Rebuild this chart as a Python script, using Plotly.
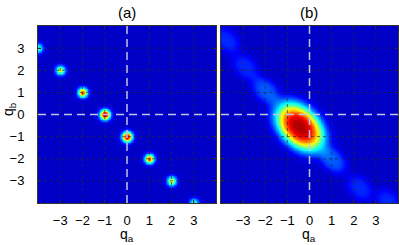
import numpy as np
import plotly.graph_objects as go

# ---------------- data ----------------
q_range = [-4, 4]
tick_vals = [-3, -2, -1, 0, 1, 2, 3]
tick_text = ["\u22123", "\u22122", "\u22121", "0", "1", "2", "3"]

# panel (a): sharp spots along q_b = -q_a - 1
spot_qa = [-4, -3, -2, -1, 0, 1, 2, 3]
spot_qb = [3, 2, 1, 0, -1, -2, -3, -4]
spot_amp = [0.42, 0.58, 0.80, 1.00, 0.97, 0.80, 0.58, 0.42]
spot_sigma = [0.15, 0.15, 0.15, 0.16, 0.16, 0.15, 0.15, 0.15]

# panel (b): broad central blob + weak side lobes (elongated along (1,-1))
blob_qa, blob_qb = -0.45, -0.55
blob_amp = 0.95
blob_half_axes = [1.24, 0.82]   # along / across the anti-diagonal
lobe_qa = [-3.75, -2.9, -2.0, 1.05, 2.25, 3.55]
lobe_qb = [3.35, 2.15, 1.1, -2.05, -3.3, -3.95]
lobe_amp = [0.10, 0.10, 0.15, 0.15, 0.10, 0.10]
lobe_half_axes = [0.7, 0.48]    # along / across the anti-diagonal

# ---------------- build the intensity fields ----------------
q = np.linspace(-4, 4, 241)
QA, QB = np.meshgrid(q, q)

Za = np.zeros_like(QA)
for a, b, A, s in zip(spot_qa, spot_qb, spot_amp, spot_sigma):
    Za += A * np.exp(-((QA - a) ** 2 + (QB - b) ** 2) / (2 * s * s))

def rot(dqa, dqb):
    return (dqa - dqb) / np.sqrt(2), (dqa + dqb) / np.sqrt(2)

u, v = rot(QA - blob_qa, QB - blob_qb)
r2 = (u / blob_half_axes[0]) ** 2 + (v / blob_half_axes[1]) ** 2
Zb = blob_amp * np.exp(-r2 ** 1.5)
for a, b, A in zip(lobe_qa, lobe_qb, lobe_amp):
    u, v = rot(QA - a, QB - b)
    rr = (u / lobe_half_axes[0]) ** 2 + (v / lobe_half_axes[1]) ** 2
    Zb += A * np.exp(-rr ** 1.7)

jet = [
    [0.0, "rgb(0,0,128)"],
    [0.125, "rgb(0,0,255)"],
    [0.375, "rgb(0,255,255)"],
    [0.625, "rgb(255,255,0)"],
    [0.875, "rgb(255,0,0)"],
    [1.0, "rgb(128,0,0)"],
]

fig = go.Figure()
for Z, xa, ya in [(Za, "x", "y"), (Zb, "x2", "y2")]:
    fig.add_trace(go.Heatmap(
        x=q, y=q, z=Z, colorscale=jet, zmin=-0.075, zmax=1.0,
        zsmooth="best", showscale=False, xaxis=xa, yaxis=ya, hoverinfo="skip",
    ))

W, H = 399, 245
dom_a = [38 / W, 216 / W]
dom_b = [221 / W, 398 / W]
dom_y = [(H - 203) / H, (H - 26) / H]

font = dict(family="Liberation Sans, Arial, sans-serif", size=13, color="black")
axis_common = dict(
    range=q_range, tickvals=tick_vals, ticktext=tick_text,
    ticks="inside", ticklen=3, tickcolor="rgb(50,50,50)",
    showline=True, linecolor="rgb(50,50,50)", linewidth=1, mirror="allticks",
    showgrid=False, zeroline=False, tickfont=font, automargin=False,
)

fig.update_layout(
    width=W, height=H, margin=dict(l=0, r=0, t=0, b=0, autoexpand=False),
    paper_bgcolor="white", plot_bgcolor="white", showlegend=False,
    xaxis=dict(domain=dom_a, anchor="y", ticklabelstandoff=5, **axis_common),
    yaxis=dict(domain=dom_y, anchor="x", ticklabelstandoff=10, **axis_common),
    xaxis2=dict(domain=dom_b, anchor="y2", ticklabelstandoff=5, **axis_common),
    yaxis2=dict(domain=dom_y, anchor="x2", showticklabels=False, **axis_common),
)

shapes = []
for xr, yr in [("x", "y"), ("x2", "y2")]:
    for t in tick_vals:
        if t == 0:
            continue
        shapes.append(dict(type="line", xref=xr, yref=yr, x0=t, x1=t, y0=q_range[0], y1=q_range[1],
                           line=dict(color="rgba(40,40,40,0.65)", width=1, dash="dot"), layer="above"))
        shapes.append(dict(type="line", xref=xr, yref=yr, y0=t, y1=t, x0=q_range[0], x1=q_range[1],
                           line=dict(color="rgba(40,40,40,0.65)", width=1, dash="dot"), layer="above"))
    shapes.append(dict(type="line", xref=xr, yref=yr, x0=0, x1=0, y0=q_range[0], y1=q_range[1],
                       line=dict(color="rgb(195,195,230)", width=1.5, dash="8px,5px"), layer="above"))
    shapes.append(dict(type="line", xref=xr, yref=yr, y0=0, y1=0, x0=q_range[0], x1=q_range[1],
                       line=dict(color="rgb(195,195,230)", width=1.5, dash="8px,5px"), layer="above"))
fig.update_layout(shapes=shapes)

big = dict(family="Liberation Sans, Arial, sans-serif", size=15, color="black")
lab = dict(family="Liberation Sans, Arial, sans-serif", size=14, color="black")
common_ann = dict(xref="paper", yref="paper", showarrow=False, xanchor="center", yanchor="middle")
ann = [
    dict(text="(a)", x=127 / W, y=(H - 12) / H, font=big, **common_ann),
    dict(text="(b)", x=309 / W, y=(H - 12) / H, font=big, **common_ann),
    dict(text="q<sub>a</sub>", x=127 / W, y=(H - 235) / H, font=lab, **common_ann),
    dict(text="q<sub>a</sub>", x=309 / W, y=(H - 235) / H, font=lab, **common_ann),
    dict(text="q<sub>b</sub>", x=9 / W, y=(H - 109) / H, textangle=-90, font=lab, **common_ann),
]
fig.update_layout(annotations=ann)

fig.write_html("out.html", config={"displayModeBar": False},
               post_script="document.body.style.margin='0px';")
